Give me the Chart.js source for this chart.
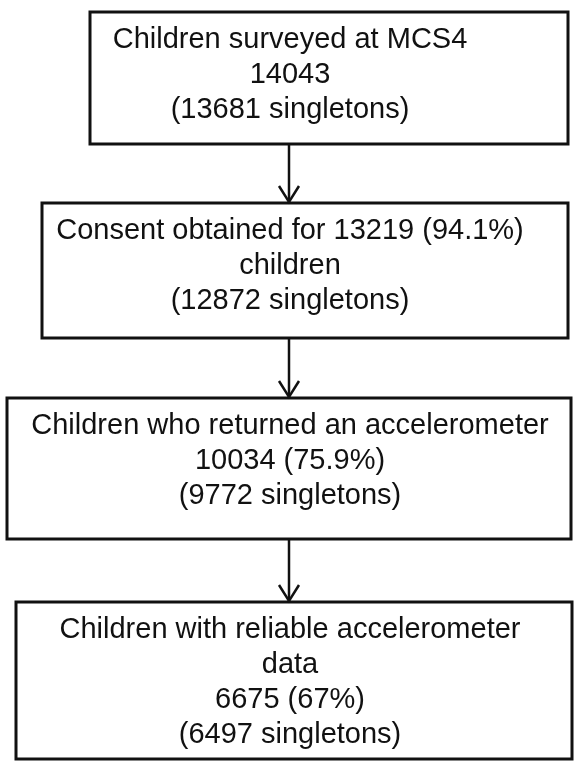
<!DOCTYPE html>
<html>
<head>
<meta charset="utf-8">
<script src="https://cdn.jsdelivr.net/npm/chart.js@4.4.1/dist/chart.umd.min.js"></script>
<style>
    html, body { margin: 0; padding: 0; background: #fff; }
    #wrap { width: 574px; height: 761px; position: relative; }
</style>
</head>
<body>
<div id="wrap"><canvas id="flow"></canvas></div>
<script>
// Flow of participants through the study
const stageTitles = ['Children surveyed at MCS4', 'Consent obtained for', 'Children who returned an accelerometer', 'Children with reliable accelerometer'];
const childCounts = [14043, 13219, 10034, 6675];
const childPercents = [null, '94.1', '75.9', '67'];
const singletonCounts = [13681, 12872, 9772, 6497];

// text lines of every box, built from the values above
const boxLines = [
    [stageTitles[0], String(childCounts[0]), `(${singletonCounts[0]} singletons)`],
    [`${stageTitles[1]} ${childCounts[1]} (${childPercents[1]}%)`, 'children', `(${singletonCounts[1]} singletons)`],
    [stageTitles[2], `${childCounts[2]} (${childPercents[2]}%)`, `(${singletonCounts[2]} singletons)`],
    [stageTitles[3], 'data', `${childCounts[3]} (${childPercents[3]}%)`, `(${singletonCounts[3]} singletons)`]
];

// box geometry in scale units (x: 0-574, y: 0-761 top down)
const boxLayout = [
    { x0: 90, x1: 568, y0: 12, y1: 144 },
    { x0: 42, x1: 568, y0: 203, y1: 338 },
    { x0: 7, x1: 571, y0: 398, y1: 539 },
    { x0: 16, x1: 572, y0: 602, y1: 759 }
];
const textCenterX = 290;
const arrowX = 289;

const flowPlugin = {
    id: 'flowBoxes',
    afterDatasetsDraw(chart) {
        const { ctx, scales: { x, y } } = chart;
        ctx.save();
        ctx.strokeStyle = '#111';
        ctx.fillStyle = '#111';

        // boxes and their text
        boxLayout.forEach((b, i) => {
            const left = x.getPixelForValue(b.x0);
            const right = x.getPixelForValue(b.x1);
            const top = y.getPixelForValue(b.y0);
            const bottom = y.getPixelForValue(b.y1);
            ctx.lineWidth = 3;
            ctx.strokeRect(left, top, right - left, bottom - top);

            ctx.font = '29px "Liberation Sans", Arial, sans-serif';
            ctx.textAlign = 'center';
            ctx.textBaseline = 'alphabetic';
            boxLines[i].forEach((line, j) => {
                ctx.fillText(line, x.getPixelForValue(textCenterX), y.getPixelForValue(b.y0 + 36 + j * 35));
            });
        });

        // arrows between boxes
        ctx.lineWidth = 2.5;
        for (let i = 0; i < boxLayout.length - 1; i++) {
            const ax = x.getPixelForValue(arrowX);
            const yStart = y.getPixelForValue(boxLayout[i].y1);
            const yEnd = y.getPixelForValue(boxLayout[i + 1].y0);
            ctx.beginPath();
            ctx.moveTo(ax, yStart);
            ctx.lineTo(ax, yEnd);
            ctx.stroke();
            ctx.beginPath();
            ctx.moveTo(ax - 10, yEnd - 17);
            ctx.lineTo(ax, yEnd - 1);
            ctx.lineTo(ax + 10, yEnd - 17);
            ctx.stroke();
        }
        ctx.restore();
    }
};

new Chart(document.getElementById('flow'), {
    type: 'scatter',
    data: { datasets: [{ data: [], pointRadius: 0 }] },
    options: {
        responsive: true,
        maintainAspectRatio: false,
        animation: false,
        layout: { padding: 0 },
        plugins: { legend: { display: false }, tooltip: { enabled: false } },
        scales: {
            x: { type: 'linear', min: 0, max: 574, display: false },
            y: { type: 'linear', min: 0, max: 761, reverse: true, display: false }
        }
    },
    plugins: [flowPlugin]
});
</script>
</body>
</html>
